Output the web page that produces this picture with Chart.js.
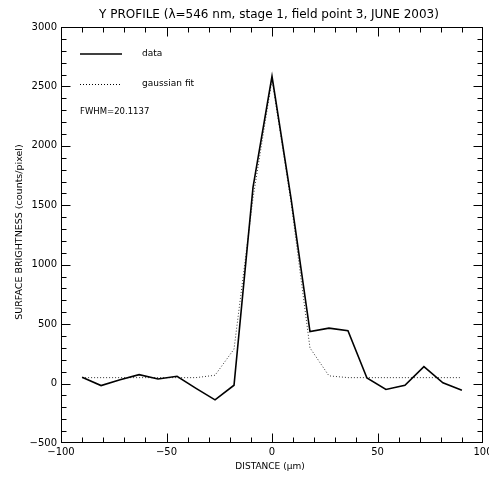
<!DOCTYPE html>
<html>
<head>
<meta charset="utf-8">
<script src="https://cdn.jsdelivr.net/npm/chart.js@4"></script>
<style>
  html, body { margin: 0; padding: 0; background: #fff; }
  canvas { display: block; }
</style>
</head>
<body>
<canvas id="profile" width="489" height="477"></canvas>
<script>
// sample positions along the profile (microns)
const distance = [-90, -81, -72, -63, -54, -45, -36, -27, -18, -9, 0, 9, 18, 27, 36, 45, 54, 63, 72, 81, 90];
// measured surface brightness (counts/pixel)
const measured = [53, -17, 32, 75, 39, 61, -40, -137, -14, 1650, 2585, 1560, 438, 466, 444, 47, -50, -14, 142, 6, -56];
// gaussian fit to the same samples
const gaussFit = [50, 50, 50, 50, 50, 50, 50, 70, 290, 1560, 2560, 1530, 300, 65, 50, 50, 50, 50, 50, 50, 50];

const xTicks = [-100, -50, 0, 50, 100];
const yTicks = [-500, 0, 500, 1000, 1500, 2000, 2500, 3000];

const titleText = 'Y PROFILE (\u03bb=546 nm, stage 1, field point 3, JUNE 2003)';
const xTitle = 'DISTANCE (\u00b5m)';
const yTitle = 'SURFACE BRIGHTNESS (counts/pixel)';
const fwhmText = 'FWHM=20.1137';

const toPoints = (ys) => ys.map((y, i) => ({ x: distance[i], y: y }));

// frame, inward ticks, titles and the in-plot legend
const decorations = {
  id: 'decorations',
  afterDraw(chart) {
    const ctx = chart.ctx;
    const area = chart.chartArea;
    const xs = chart.scales.x;
    const ys = chart.scales.y;
    const L = area.left + 0.5, R = area.right - 0.5, T = area.top + 0.5, B = area.bottom - 0.5;
    const clamp = (v, a, b) => Math.min(Math.max(v, a), b);

    ctx.save();
    ctx.strokeStyle = '#000';
    ctx.lineWidth = 1;
    ctx.strokeRect(L, T, R - L, B - T);

    ctx.beginPath();
    for (let v = -100; v <= 100; v += 10) {
      const px = clamp(Math.round(xs.getPixelForValue(v)) + 0.5, L, R);
      const len = v % 50 === 0 ? 9 : 5;
      ctx.moveTo(px, B); ctx.lineTo(px, B - len);
      ctx.moveTo(px, T); ctx.lineTo(px, T + len);
    }
    for (let v = -500; v <= 3000; v += 100) {
      const py = clamp(Math.round(ys.getPixelForValue(v)) + 0.5, T, B);
      const len = v % 500 === 0 ? 9 : 5;
      ctx.moveTo(L, py); ctx.lineTo(L + len, py);
      ctx.moveTo(R, py); ctx.lineTo(R - len, py);
    }
    ctx.stroke();

    ctx.fillStyle = '#000';
    ctx.textAlign = 'center';
    ctx.textBaseline = 'middle';
    ctx.font = '12px "DejaVu Sans"';
    ctx.fillText(titleText, 269, 15);

    ctx.font = '9px "DejaVu Sans"';
    ctx.fillText(xTitle, 270, 467);

    ctx.save();
    ctx.translate(20, 232);
    ctx.rotate(-Math.PI / 2);
    ctx.font = '9.5px "DejaVu Sans"';
    ctx.fillText(yTitle, 0, 0);
    ctx.restore();

    // legend
    ctx.textAlign = 'left';
    ctx.font = '9px "DejaVu Sans"';
    ctx.lineWidth = 1.5;
    ctx.beginPath();
    ctx.moveTo(80, 54); ctx.lineTo(122, 54);
    ctx.stroke();
    ctx.fillText('data', 142, 54);

    ctx.lineWidth = 1;
    ctx.setLineDash([1, 2]);
    ctx.beginPath();
    ctx.moveTo(80, 84.5); ctx.lineTo(122, 84.5);
    ctx.stroke();
    ctx.setLineDash([]);
    ctx.fillText('gaussian fit', 142, 84);

    ctx.font = '8.5px "DejaVu Sans"';
    ctx.fillText(fwhmText, 80, 112);
    ctx.restore();
  }
};

new Chart(document.getElementById('profile'), {
  type: 'line',
  data: {
    datasets: [
      {
        label: 'data',
        data: toPoints(measured),
        borderColor: '#000',
        borderWidth: 1.6,
        pointRadius: 0,
        tension: 0,
        fill: false,
      },
      {
        label: 'gaussian fit',
        data: toPoints(gaussFit),
        borderColor: '#333',
        borderWidth: 1,
        borderDash: [1, 2],
        pointRadius: 0,
        tension: 0,
        fill: false,
      },
    ],
  },
  options: {
    responsive: false,
    animation: false,
    devicePixelRatio: 1,
    layout: { padding: { top: 27, right: 6, left: 0, bottom: 0 } },
    plugins: {
      legend: { display: false },
      title: { display: false },
      tooltip: { enabled: false },
    },
    scales: {
      x: {
        type: 'linear',
        min: -100,
        max: 100,
        afterBuildTicks: (s) => { s.ticks = xTicks.map(v => ({ value: v })); },
        ticks: {
          color: '#000',
          font: { family: 'DejaVu Sans', size: 10 },
          padding: 3,
          maxRotation: 0,
          callback: (v) => v === 0 ? '0' : (v < 0 ? '\u2212' + Math.abs(v) : String(v)),
        },
        grid: { display: false, drawTicks: false },
        border: { display: false },
        afterFit: (s) => { s.height = 34; s.paddingLeft = 0; s.paddingRight = 0; },
      },
      y: {
        type: 'linear',
        min: -500,
        max: 3000,
        afterBuildTicks: (s) => { s.ticks = yTicks.map(v => ({ value: v })); },
        ticks: {
          color: '#000',
          font: { family: 'DejaVu Sans', size: 10 },
          padding: 4,
          callback: (v) => v < 0 ? '\u2212' + Math.abs(v) : String(v),
        },
        grid: { display: false, drawTicks: false },
        border: { display: false },
        afterFit: (s) => { s.width = 61; s.paddingTop = 0; s.paddingBottom = 0; },
      },
    },
  },
  plugins: [decorations],
});
</script>
</body>
</html>
